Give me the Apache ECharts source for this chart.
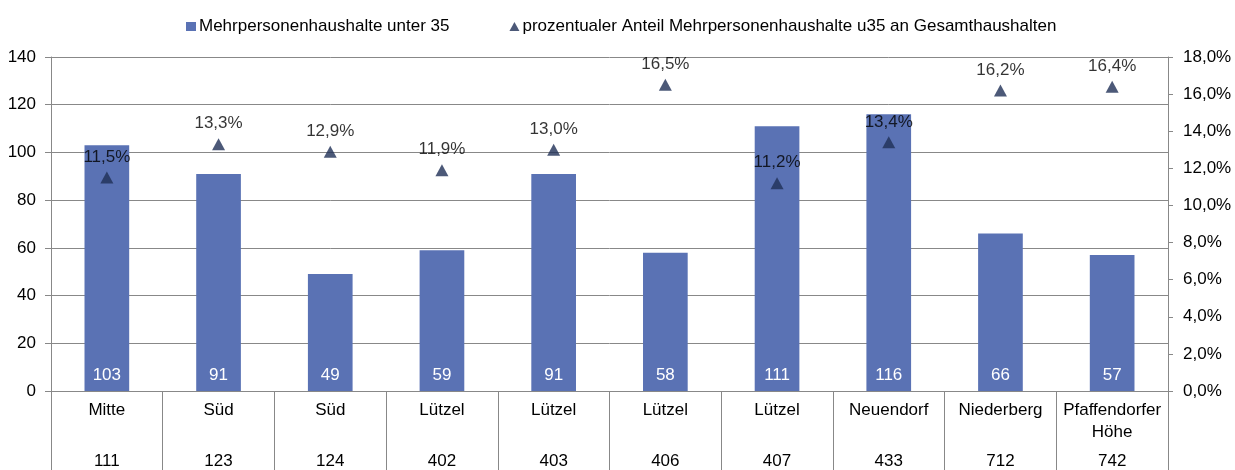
<!DOCTYPE html>
<html>
<head>
<meta charset="utf-8">
<script src="https://cdn.jsdelivr.net/npm/echarts@6/dist/echarts.min.js"></script>
<style>
  html, body { margin: 0; padding: 0; background: #fff; }
  #chart { width: 1235px; height: 470px; }
</style>
</head>
<body>
<div id="chart"></div>
<script>
// Districts (name + statistical area code)
const districts = ['Mitte', 'Süd', 'Süd', 'Lützel', 'Lützel', 'Lützel', 'Lützel', 'Neuendorf', 'Niederberg', 'Pfaffendorfer\nHöhe'];
const areaCodes = ['111', '123', '124', '402', '403', '406', '407', '433', '712', '742'];

// Multi-person households under 35 (count)
const households = [103, 91, 49, 59, 91, 58, 111, 116, 66, 57];
// Share of those households in all households (percent)
const shares = [11.5, 13.3, 12.9, 11.9, 13.0, 16.5, 11.2, 13.4, 16.2, 16.4];

const leftTicks = { min: 0, max: 140, interval: 20 };
const rightTicks = { min: 0, max: 18, interval: 2 };

const barName = 'Mehrpersonenhaushalte unter 35';
const shareName = 'prozentualer Anteil Mehrpersonenhaushalte u35 an Gesamthaushalten';

const FONT = 'Liberation Sans';
const FS = 17;
const GRID_GRAY = '#888888';
const pct = v => v.toFixed(1).replace('.', ',') + '%';

const chart = echarts.init(document.getElementById('chart'), null, { renderer: 'canvas' });

chart.setOption({
  animation: false,
  textStyle: { fontFamily: FONT, color: '#000' },
  legend: {
    top: 13,
    left: 181,
    itemGap: 60,
    itemWidth: 10,
    itemHeight: 9,
    textStyle: { fontFamily: FONT, fontSize: FS, color: '#000', padding: [0, 0, 0, -2] },
    data: [
      { name: barName, icon: 'rect' },
      { name: shareName, icon: 'triangle' }
    ]
  },
  grid: { left: 51, right: 67, top: 57, bottom: 79, containLabel: false },
  xAxis: [
    {
      type: 'category',
      data: districts,
      position: 'bottom',
      axisLine: { show: true, lineStyle: { color: GRID_GRAY, width: 1 } },
      axisTick: { show: true, interval: 0, length: 80, lineStyle: { color: GRID_GRAY } },
      axisLabel: {
        interval: 0, margin: 8, fontSize: FS, color: '#000',
        fontFamily: FONT, lineHeight: 22
      }
    },
    {
      type: 'category',
      data: areaCodes,
      position: 'bottom',
      offset: 0,
      axisLine: { show: false },
      axisTick: { show: false },
      axisLabel: { interval: 0, margin: 62, fontSize: FS, lineHeight: 17, color: '#000', fontFamily: FONT }
    }
  ],
  yAxis: [
    {
      type: 'value',
      min: leftTicks.min, max: leftTicks.max, interval: leftTicks.interval,
      axisLine: { show: true, lineStyle: { color: GRID_GRAY } },
      axisTick: { show: true, length: 6, lineStyle: { color: GRID_GRAY } },
      axisLabel: { fontSize: FS, color: '#000', margin: 15, fontFamily: FONT },
      splitLine: { show: true, lineStyle: { color: GRID_GRAY, width: 1 } }
    },
    {
      type: 'value',
      position: 'right',
      min: rightTicks.min, max: rightTicks.max, interval: rightTicks.interval,
      axisLine: { show: true, lineStyle: { color: GRID_GRAY } },
      axisTick: { show: true, length: 5, lineStyle: { color: GRID_GRAY } },
      axisLabel: { fontSize: FS, color: '#000', margin: 15, fontFamily: FONT, formatter: v => pct(v) },
      splitLine: { show: false }
    }
  ],
  series: [
    {
      name: barName,
      type: 'bar',
      xAxisIndex: 0,
      yAxisIndex: 0,
      data: households,
      barWidth: '40%',
      itemStyle: { color: '#5a72b4' },
      label: {
        show: true, position: 'insideBottom', distance: 7,
        color: '#fff', fontSize: FS, fontFamily: FONT
      },
      z: 2
    },
    {
      name: shareName,
      type: 'scatter',
      xAxisIndex: 0,
      yAxisIndex: 1,
      data: shares,
      symbol: 'triangle',
      symbolSize: [13, 12],
      itemStyle: { color: '#1f3056' },
      label: {
        show: true, position: 'top', distance: 6,
        color: '#000', fontSize: FS, fontFamily: FONT,
        formatter: p => pct(p.value)
      },
      z: 3
    }
  ]
});
</script>
</body>
</html>
